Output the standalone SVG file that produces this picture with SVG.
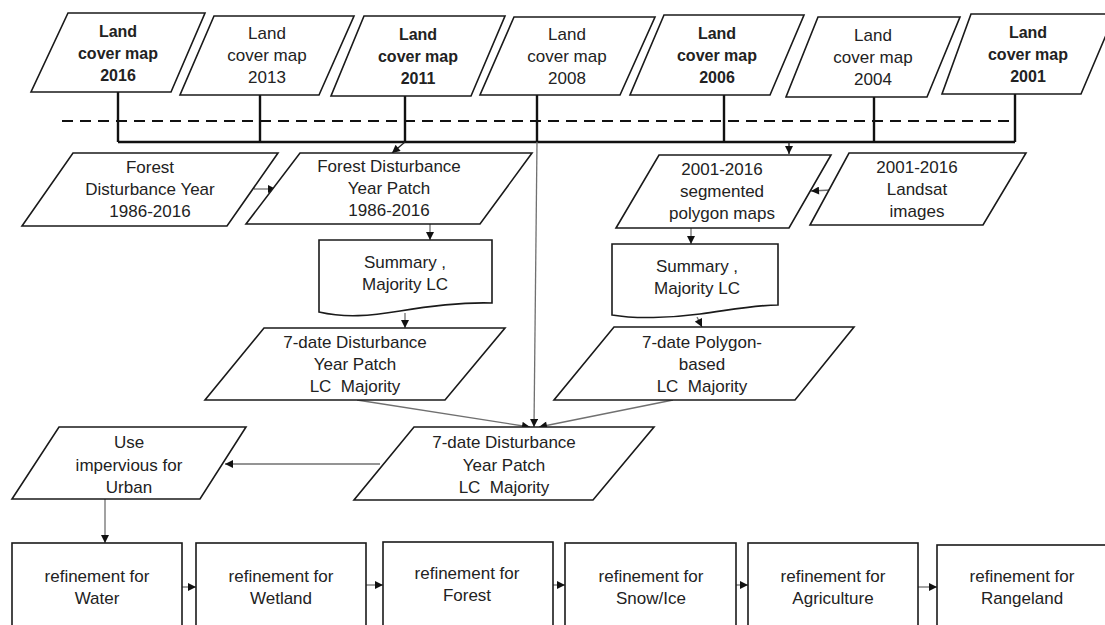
<svg xmlns="http://www.w3.org/2000/svg" width="1105" height="625" viewBox="0 0 1105 625">
<defs>
<marker id="ah" viewBox="0 0 10 10" refX="10" refY="5" markerWidth="9" markerHeight="8" markerUnits="userSpaceOnUse" orient="auto">
<path d="M0,0 L10,5 L0,10 Z" fill="#111"/>
</marker>
</defs>
<style>
.shape{fill:#fff;stroke:#1a1a1a;stroke-width:1.6}
text{font-family:"Liberation Sans",Arial,sans-serif;font-size:17px;fill:#222;text-anchor:middle;dominant-baseline:central}
.b{font-weight:bold;font-size:16px}
.tl{stroke:#111;stroke-width:2.4;fill:none}
.dash{stroke:#111;stroke-width:2.2;stroke-dasharray:11 7;fill:none}
.c{stroke:#707070;stroke-width:1.3;fill:none;marker-end:url(#ah)}
.ck{stroke:#222;stroke-width:1.3;fill:none;marker-end:url(#ah)}
</style>
<rect width="1105" height="625" fill="#fff"/>

<g id="connectors">
<path class="dash" d="M62,121 H1015"/>
<path class="tl" d="M118,142 H1015"/>
<path class="tl" d="M118,92 V142 M260,95 V142 M405,96 V142 M537,95 V142 M724,95 V142 M874,97 V142 M1015,94 V142"/>
<path class="ck" d="M405,142 L392,153"/>
<path class="ck" d="M789,142 V154"/>
<path class="c" d="M254,189 H276"/>
<path class="c" d="M831,190 L811,191"/>
<path class="c" d="M430,224 V240"/>
<path class="c" d="M691,228 V244"/>
<path class="c" d="M405,313 V328"/>
<path class="c" d="M697,317 L702,327"/>
<path class="c" d="M357,400 L530,427"/>
<path class="c" d="M673,400 L539,427"/>
<path class="c" d="M537,142 L534,427"/>
<path class="c" d="M380,464 H225"/>
<path class="c" d="M105,499 V543"/>
<path class="c" d="M182,587 H196"/>
<path class="c" d="M366,585 H383"/>
<path class="c" d="M553,585 H565"/>
<path class="c" d="M736,585 H748"/>
<path class="c" d="M918,587 H937"/>
</g>

<g id="lc2016"><polygon class="shape" points="68,13 205,13 171,92 31,92"/>
<text class="b" x="118" y="31">Land</text><text class="b" x="118" y="53">cover map</text><text class="b" x="118" y="75">2016</text></g>
<g id="lc2013"><polygon class="shape" points="214,16 354,16 319,95 180,95"/>
<text x="267" y="33">Land</text><text x="267" y="55">cover map</text><text x="267" y="77">2013</text></g>
<g id="lc2011"><polygon class="shape" points="364,16 505,16 471,96 331,96"/>
<text class="b" x="418" y="34">Land</text><text class="b" x="418" y="56">cover map</text><text class="b" x="418" y="78">2011</text></g>
<g id="lc2008"><polygon class="shape" points="514,17 655,17 620,95 480,95"/>
<text x="567" y="34">Land</text><text x="567" y="56">cover map</text><text x="567" y="78">2008</text></g>
<g id="lc2006"><polygon class="shape" points="664,15 804,15 770,95 630,95"/>
<text class="b" x="717" y="33">Land</text><text class="b" x="717" y="55">cover map</text><text class="b" x="717" y="77">2006</text></g>
<g id="lc2004"><polygon class="shape" points="818,17 960,17 927,97 786,97"/>
<text x="873" y="35">Land</text><text x="873" y="57">cover map</text><text x="873" y="79">2004</text></g>
<g id="lc2001"><polygon class="shape" points="971,14 1115,14 1081,94 942,94"/>
<text class="b" x="1028" y="32">Land</text><text class="b" x="1028" y="54">cover map</text><text class="b" x="1028" y="76">2001</text></g>

<g id="fdy"><polygon class="shape" points="73,153 278,153 227,226 22,226"/>
<text x="150" y="167">Forest</text><text x="150" y="189">Disturbance Year</text><text x="150" y="211">1986-2016</text></g>
<g id="fdyp"><polygon class="shape" points="300,153 532,153 480,224 246,224"/>
<text x="389" y="166">Forest Disturbance</text><text x="389" y="188">Year Patch</text><text x="389" y="210">1986-2016</text></g>
<g id="seg"><polygon class="shape" points="659,155 831,155 789,228 616,228"/>
<text x="722" y="169">2001-2016</text><text x="722" y="191">segmented</text><text x="722" y="213">polygon maps</text></g>
<g id="landsat"><polygon class="shape" points="849,153 1026,153 983,225 810,225"/>
<text x="917" y="167">2001-2016</text><text x="917" y="189">Landsat</text><text x="917" y="211">images</text></g>

<g id="sum1"><path class="shape" d="M319,240 H492 V303 C460,302 430,306 400,311 C370,316 345,318 319,312 Z"/>
<text x="405" y="262">Summary ,</text><text x="405" y="284">Majority LC</text></g>
<g id="sum2"><path class="shape" d="M612,244 H778 V305 C755,305 730,310 700,314 C670,318 635,319 612,315 Z"/>
<text x="697" y="266">Summary ,</text><text x="697" y="288">Majority LC</text></g>

<g id="d7"><polygon class="shape" points="264,328 505,328 445,400 205,400"/>
<text x="355" y="342">7-date Disturbance</text><text x="355" y="364">Year Patch</text><text x="355" y="386" xml:space="preserve">LC  Majority</text></g>
<g id="p7"><polygon class="shape" points="614,327 854,327 795,400 554,400"/>
<text x="702" y="342">7-date Polygon-</text><text x="702" y="364">based</text><text x="702" y="386" xml:space="preserve">LC  Majority</text></g>

<g id="c7"><polygon class="shape" points="414,427 654,427 593,500 354,500"/>
<text x="504" y="442">7-date Disturbance</text><text x="504" y="465">Year Patch</text><text x="504" y="487" xml:space="preserve">LC  Majority</text></g>
<g id="urban"><polygon class="shape" points="59,427 246,427 200,499 12,499"/>
<text x="129" y="442">Use</text><text x="129" y="465">impervious for</text><text x="129" y="487">Urban</text></g>

<g id="water"><rect class="shape" x="12" y="543" width="170" height="100"/>
<text x="97" y="576">refinement for</text><text x="97" y="598">Water</text></g>
<g id="wetland"><rect class="shape" x="196" y="543" width="170" height="100"/>
<text x="281" y="576">refinement for</text><text x="281" y="598">Wetland</text></g>
<g id="forest"><rect class="shape" x="383" y="542" width="170" height="100"/>
<text x="467" y="573">refinement for</text><text x="467" y="595">Forest</text></g>
<g id="snow"><rect class="shape" x="565" y="543" width="171" height="100"/>
<text x="651" y="576">refinement for</text><text x="651" y="598">Snow/Ice</text></g>
<g id="agri"><rect class="shape" x="748" y="543" width="170" height="100"/>
<text x="833" y="576">refinement for</text><text x="833" y="598">Agriculture</text></g>
<g id="range"><rect class="shape" x="937" y="545" width="175" height="100"/>
<text x="1022" y="576">refinement for</text><text x="1022" y="598">Rangeland</text></g>
</svg>
